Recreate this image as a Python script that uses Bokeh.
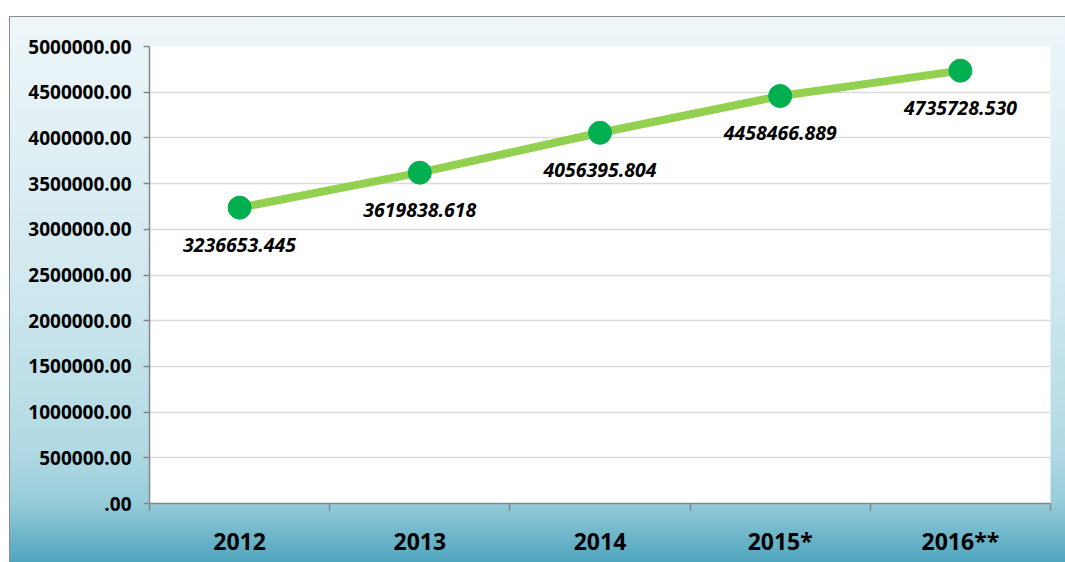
from bokeh.plotting import figure
from bokeh.models import Range1d, FixedTicker, ColumnDataSource
from bokeh.core.properties import value
from bokeh.embed import file_html
from bokeh.resources import INLINE

# ---- data ----
years = ["2012", "2013", "2014", "2015*", "2016**"]
values = [3236653.445, 3619838.618, 4056395.804, 4458466.889, 4735728.530]
value_labels = ["3236653.445", "3619838.618", "4056395.804", "4458466.889", "4735728.530"]
y_ticks = [0, 500000, 1000000, 1500000, 2000000, 2500000, 3000000, 3500000, 4000000, 4500000, 5000000]
y_tick_labels = [".00", "500000.00", "1000000.00", "1500000.00", "2000000.00", "2500000.00",
                 "3000000.00", "3500000.00", "4000000.00", "4500000.00", "5000000.00"]

xs = [i + 0.5 for i in range(len(years))]
src = ColumnDataSource(dict(x=xs, y=values, lab=value_labels))

FONT = "Open Sans"

bg = ("linear-gradient(#8c8c8c,#8c8c8c) 9px 16px / 100% 1px no-repeat, "
      "linear-gradient(#8c8c8c,#8c8c8c) 9px 16px / 1px 100% no-repeat, "
      "linear-gradient(to bottom, #eef6f9 0%, #cfe8ef 50%, #b0d9e3 80%, #96ccda 89%, #4fa5be 100%) "
      "10px 17px / calc(100% - 10px) calc(100% - 17px) no-repeat, #ffffff")

p = figure(width=1065, height=562, output_backend="svg", toolbar_location=None,
           x_range=Range1d(0, 5), y_range=Range1d(0, 5000000),
           min_border_left=149, min_border_right=15, min_border_top=46, min_border_bottom=59,
           frame_width=901, frame_height=457,
           background_fill_color="#ffffff", border_fill_color=None, outline_line_color=None,
           styles={"background": bg})

# y axis
p.yaxis.ticker = FixedTicker(ticks=y_ticks)
p.yaxis.major_label_overrides = {t: l for t, l in zip(y_ticks, y_tick_labels)}
p.yaxis.axis_line_color = "#868686"
p.yaxis.axis_line_width = 1.5
p.yaxis.major_tick_line_color = "#868686"
p.yaxis.major_tick_line_width = 1.5
p.yaxis.major_tick_out = 6
p.yaxis.major_tick_in = 0
p.yaxis.minor_tick_line_color = None
p.yaxis.major_label_standoff = 12
p.yaxis.major_label_text_font = FONT
p.yaxis.major_label_text_font_style = "bold"
p.yaxis.major_label_text_font_size = "19px"
p.yaxis.major_label_text_color = "#000000"

# x axis: labels at centers, ticks at boundaries
p.xaxis.ticker = FixedTicker(ticks=xs, minor_ticks=[0, 1, 2, 3, 4, 5])
p.xaxis.major_label_overrides = {x: y for x, y in zip(xs, years)}
p.xaxis.axis_line_color = "#868686"
p.xaxis.axis_line_width = 1.5
p.xaxis.major_tick_line_color = None
p.xaxis.minor_tick_line_color = "#868686"
p.xaxis.minor_tick_line_width = 1.5
p.xaxis.minor_tick_out = 7
p.xaxis.minor_tick_in = 0
p.xaxis.major_label_standoff = 14
p.xaxis.major_label_text_font = FONT
p.xaxis.major_label_text_font_style = "bold"
p.xaxis.major_label_text_font_size = "23px"
p.xaxis.major_label_text_color = "#000000"

p.xgrid.grid_line_color = None
p.ygrid.grid_line_color = "#d9d9d9"
p.ygrid.grid_line_width = 1.5

p.line("x", "y", source=src, line_color="#92d050", line_width=8)
p.scatter("x", "y", source=src, size=23, fill_color="#00b050", line_color="#00b050")
p.text("x", "y", text="lab", source=src, y_offset=37, text_align="center",
       text_baseline="middle", text_font=value(FONT), text_font_style="bold italic",
       text_font_size="19.5px", text_color="#000000")

open("out.html", "w").write(file_html(p, INLINE))
